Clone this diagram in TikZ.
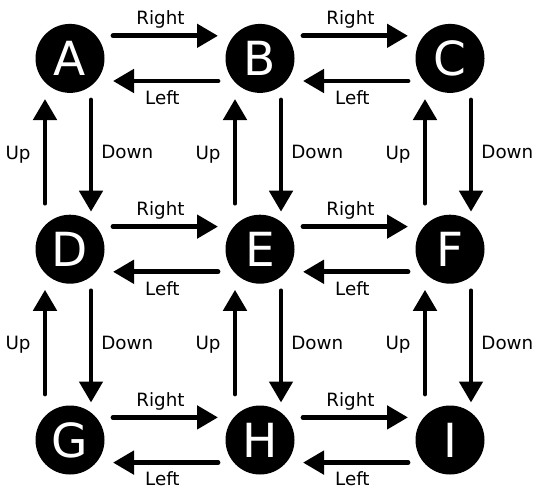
\documentclass[tikz,border=0pt]{standalone}
\usepackage{fontspec}
\setmainfont{DejaVu Sans}
\usetikzlibrary{arrows.meta}
\begin{document}
\begin{tikzpicture}[x=1pt,y=1pt,
  state/.style={circle,fill=black,text=white,minimum size=69pt,inner sep=0pt,
    font=\fontsize{47}{47}\selectfont},
  arr/.style={line width=4.8pt,line cap=round,-{Triangle[length=21pt,width=23pt]}},
  lbl/.style={font=\fontsize{18.3}{18.3}\selectfont,inner sep=0pt}]
\useasboundingbox (0,0) rectangle (534,-487);
\foreach \n/\x/\y in {A/70/58.4,B/260/58.4,C/450/58.4,D/70/249.2,E/260/249.2,F/450/249.2,G/70/440,H/260/440,I/450/440}
  \node[state] (\n) at (\x,-\y) {\n};
% horizontal pairs
\foreach \a/\b in {A/B,B/C,D/E,E/F,G/H,H/I}{
  \draw[arr] ([shift={(43,22.6)}]\a.center) -- node[lbl,pos=0.5,anchor=base,xshift=-5,yshift=11]{Right} ([shift={(-42,22.6)}]\b.center);
  \draw[arr] ([shift={(-42,-22.6)}]\b.center) -- node[lbl,pos=0.529,anchor=base,yshift=-23.3]{Left} ([shift={(43,-22.6)}]\a.center);
}
% vertical pairs
\foreach \a/\b in {A/D,B/E,C/F,D/G,E/H,F/I}{
  \draw[arr] ([shift={(21,-41.6)}]\a.center) -- node[lbl,pos=0.528,anchor=base west,xshift=8]{Down} ([shift={(21,37.5)}]\b.center);
  \draw[arr] ([shift={(-25,46)}]\b.center) -- node[lbl,pos=0.423,anchor=base east,xshift=-12]{Up} ([shift={(-25,-40.6)}]\a.center);
}
\end{tikzpicture}
\end{document}
